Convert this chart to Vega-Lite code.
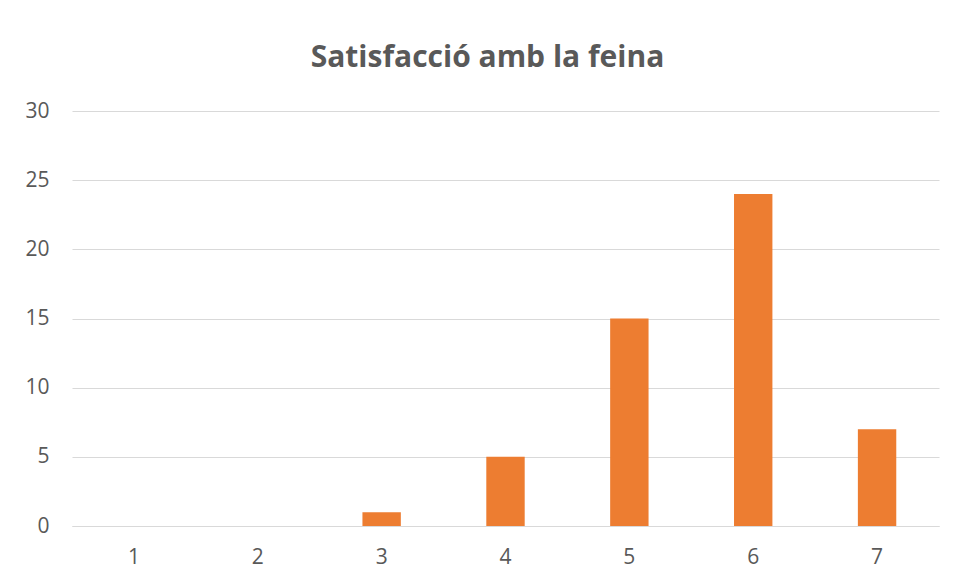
{
  "$schema": "https://vega.github.io/schema/vega-lite/v6.json",
  "autosize": {"type": "none"},
  "width": 867,
  "height": 415,
  "padding": {"left": 72, "top": 111, "right": 17, "bottom": 57},
  "background": "white",
  "title": {
    "text": "Satisfacció amb la feina",
    "font": "Open Sans",
    "fontSize": 30,
    "fontWeight": "bold",
    "color": "#595959",
    "anchor": "middle",
    "dx": -18,
    "offset": 27
  },
  "data": {
    "values": [
      {"valor": "1", "n": 0},
      {"valor": "2", "n": 0},
      {"valor": "3", "n": 1},
      {"valor": "4", "n": 5},
      {"valor": "5", "n": 15},
      {"valor": "6", "n": 24},
      {"valor": "7", "n": 7}
    ]
  },
  "mark": {"type": "bar", "color": "#ED7D31"},
  "encoding": {
    "x": {
      "field": "valor",
      "type": "ordinal",
      "sort": null,
      "scale": {"paddingInner": 0.69, "paddingOuter": 0.345},
      "axis": {
        "title": null,
        "labelAngle": 0,
        "domain": true,
        "domainColor": "#D9D9D9",
        "domainWidth": 1,
        "ticks": false,
        "labelPadding": 20,
        "labelFont": "Open Sans",
        "labelFontSize": 21,
        "labelColor": "#595959"
      }
    },
    "y": {
      "field": "n",
      "type": "quantitative",
      "scale": {"domain": [0, 30], "nice": false},
      "axis": {
        "title": null,
        "values": [0, 5, 10, 15, 20, 25, 30],
        "domain": false,
        "ticks": false,
        "grid": true,
        "gridColor": "#D9D9D9",
        "gridWidth": 1,
        "labelPadding": 23,
        "labelFont": "Open Sans",
        "labelFontSize": 21,
        "labelColor": "#595959"
      }
    }
  },
  "config": {"view": {"stroke": null}}
}
